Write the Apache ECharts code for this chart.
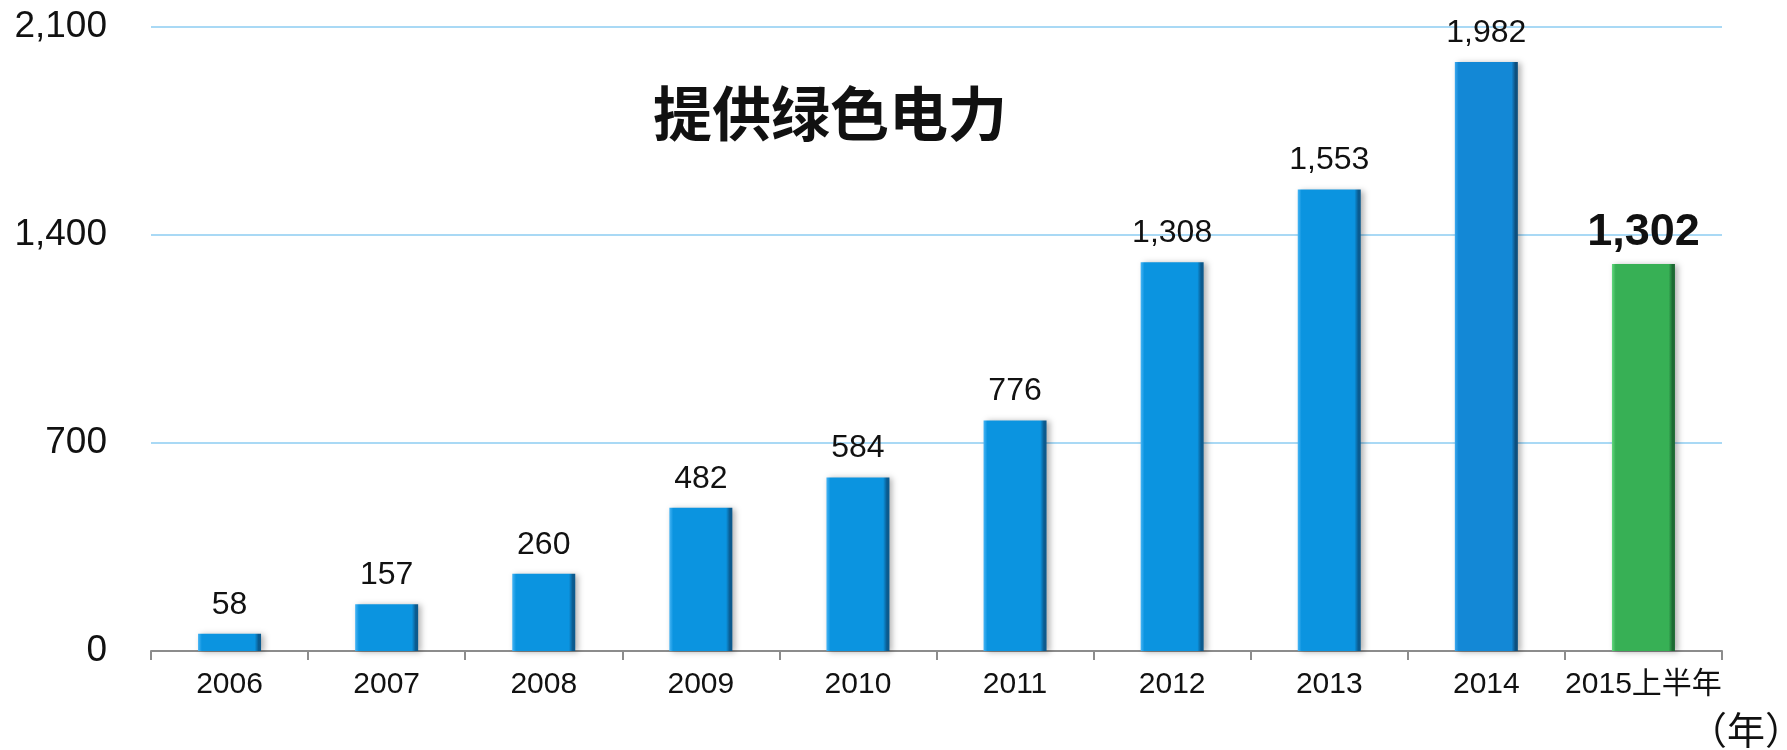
<!DOCTYPE html>
<html>
<head>
<meta charset="utf-8">
<script src="https://cdn.jsdelivr.net/npm/echarts@6/dist/echarts.min.js"></script>
<style>
  html, body { margin: 0; padding: 0; background: #fff; }
  #chart { width: 1787px; height: 750px; }
</style>
</head>
<body>
<div id="chart"></div>
<script>
// 年份与绿色电力数据
const years = ['2006', '2007', '2008', '2009', '2010', '2011', '2012', '2013', '2014', '2015上半年']
const values = [58, 157, 260, 482, 584, 776, 1308, 1553, 1982, 1302]
const yTicks = [0, 700, 1400, 2100]

// 柱子的立体渐变
const barGradient = (light, main, dark) => new echarts.graphic.LinearGradient(0, 0, 1, 0, [
  { offset: 0, color: light },
  { offset: 0.06, color: main },
  { offset: 0.9, color: main },
  { offset: 0.96, color: dark },
  { offset: 1, color: dark }
])

const blue = barGradient('#47b5f5', '#0b94e0', '#0b5a8e')
const blue2014 = barGradient('#3aa7ee', '#1388d6', '#0d4f7e')
const green = barGradient('#62d87e', '#37b055', '#1d6a33')

const fmt = v => v.toLocaleString('en-US')

const seriesData = values.map((v, i) => {
  const last = i === values.length - 1
  return {
    value: v,
    itemStyle: { color: last ? green : (i === 8 ? blue2014 : blue) },
    label: last ? { fontSize: 45, fontWeight: 'bold', distance: 9 } : {}
  }
})

const chart = echarts.init(document.getElementById('chart'))

chart.setOption({
  backgroundColor: '#fff',
  animation: false,
  title: {
    text: '提供绿色电力',
    left: 648,
    top: 79,
    textStyle: {
      fontFamily: 'Noto Sans CJK SC',
      fontSize: 59,
      fontWeight: 'bold',
      color: '#111'
    }
  },
  grid: {
    left: 151,
    right: 65,
    top: 27,
    bottom: 99
  },
  xAxis: {
    type: 'category',
    data: years,
    axisLine: { lineStyle: { color: '#8c8c8c', width: 2 } },
    axisTick: { show: true, interval: 0, length: 9, lineStyle: { color: '#8c8c8c', width: 2 } },
    axisLabel: {
      interval: 0,
      color: '#111',
      fontSize: 30,
      margin: 19,
      fontFamily: 'Liberation Sans, Noto Sans CJK SC'
    }
  },
  yAxis: {
    type: 'value',
    min: yTicks[0],
    max: yTicks[yTicks.length - 1],
    interval: 700,
    axisLine: { show: false },
    axisTick: { show: false },
    axisLabel: {
      color: '#111',
      fontSize: 37,
      margin: 44,
      fontFamily: 'Liberation Sans',
      formatter: v => fmt(v)
    },
    splitLine: { lineStyle: { color: '#a9d9f5', width: 2 } }
  },
  series: [
    {
      type: 'bar',
      barWidth: 63,
      data: seriesData,
      itemStyle: {
        shadowBlur: 6,
        shadowColor: 'rgba(0,0,0,0.3)',
        shadowOffsetX: 3,
        shadowOffsetY: 1
      },
      label: {
        show: true,
        position: 'top',
        distance: 13,
        color: '#111',
        fontSize: 32,
        fontFamily: 'Liberation Sans',
        formatter: p => fmt(p.value)
      }
    }
  ],
  graphic: [
    {
      type: 'text',
      right: -16,
      top: 711,
      style: {
        text: '（年）',
        fontSize: 38,
        fontFamily: 'Noto Sans CJK JP',
        fill: '#111'
      }
    }
  ]
})
</script>
</body>
</html>
